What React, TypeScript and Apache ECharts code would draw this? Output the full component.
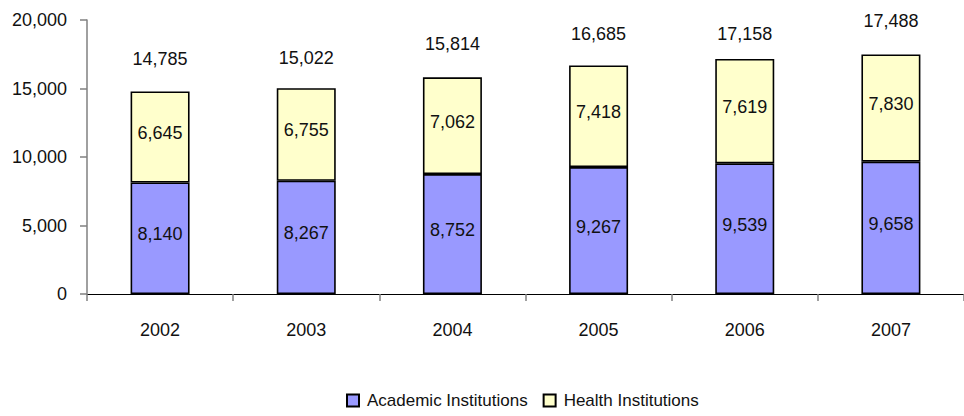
import React, { useEffect, useRef } from "react";
import * as echarts from "echarts";

const years = ["2002", "2003", "2004", "2005", "2006", "2007"];
const academic = [8140, 8267, 8752, 9267, 9539, 9658];
const health = [6645, 6755, 7062, 7418, 7619, 7830];
const totalLabelRaise = [31, 29, 32, 30, 24, 32];
const yTicks = [0, 5000, 10000, 15000, 20000];

const FONT = "'Liberation Sans', Arial, sans-serif";
const fmt = (v: number) => v.toLocaleString("en-US");

export default function App() {
  const ref = useRef<HTMLDivElement>(null);
  useEffect(() => {
    if (!ref.current) return;
    const chart = echarts.init(ref.current, null, { renderer: "svg" });
    const totals = years.map((_, i) => academic[i] + health[i]);
    chart.setOption({
      animation: false,
      textStyle: { fontFamily: FONT },
      grid: { left: 87, right: -8, top: 20, bottom: 122, containLabel: false },
      legend: {
        data: ["Academic Institutions", "Health Institutions"],
        left: 341,
        top: 387,
        itemWidth: 12,
        itemHeight: 12,
        itemGap: 15,
        icon: "rect",
        textStyle: { fontFamily: FONT, fontSize: 17, color: "#111", padding: [0, 0, 0, 3] },
      },
      xAxis: {
        type: "category",
        data: years,
        axisLine: { lineStyle: { color: "#000", width: 1 } },
        axisTick: { show: true, length: 7, lineStyle: { color: "#808080", width: 1.5 } },
        axisLabel: { margin: 27, fontSize: 18, color: "#111", fontFamily: FONT },
      },
      yAxis: {
        type: "value",
        min: yTicks[0],
        max: yTicks[yTicks.length - 1],
        interval: 5000,
        splitLine: { show: false },
        axisLine: { show: true, lineStyle: { color: "#808080", width: 1.5 } },
        axisTick: { show: true, length: 7, lineStyle: { color: "#808080", width: 1.5 } },
        axisLabel: {
          margin: 20,
          fontSize: 18,
          color: "#111",
          fontFamily: FONT,
          formatter: (v: number) => fmt(v),
        },
      },
      series: [
        {
          name: "Academic Institutions",
          type: "bar",
          stack: "total",
          barWidth: 59,
          data: academic,
          itemStyle: { color: "#9999FF", borderColor: "#000", borderWidth: 1.6 },
          label: {
            show: true,
            position: "inside",
            offset: [0, -4],
            fontSize: 18,
            color: "#111",
            fontFamily: FONT,
            formatter: (p: any) => fmt(p.value),
          },
        },
        {
          name: "Health Institutions",
          type: "bar",
          stack: "total",
          barWidth: 59,
          data: health,
          itemStyle: { color: "#FFFFCC", borderColor: "#000", borderWidth: 1.6 },
          label: {
            show: true,
            position: "inside",
            offset: [0, -4],
            fontSize: 18,
            color: "#111",
            fontFamily: FONT,
            formatter: (p: any) => fmt(p.value),
          },
        },
        {
          name: "Total",
          type: "line",
          data: totals.map((v, i) => ({
            value: v,
            label: { offset: [0, -(totalLabelRaise[i] - 9)] },
          })),
          lineStyle: { width: 0, color: "rgba(0,0,0,0)" },
          symbol: "circle",
          symbolSize: 2,
          showSymbol: true,
          itemStyle: { color: "rgba(0,0,0,0)", borderWidth: 0 },
          silent: true,
          z: 5,
          label: {
            show: true,
            position: "top",
            distance: 0,
            fontSize: 18,
            color: "#111",
            fontFamily: FONT,
            formatter: (p: any) => fmt(p.value),
          },
        },
      ],
    });
    return () => chart.dispose();
  }, []);
  return (
    <div
      ref={ref}
      style={{ position: "fixed", left: 0, top: 0, width: 964, height: 416, background: "#fff" }}
    />
  );
}
